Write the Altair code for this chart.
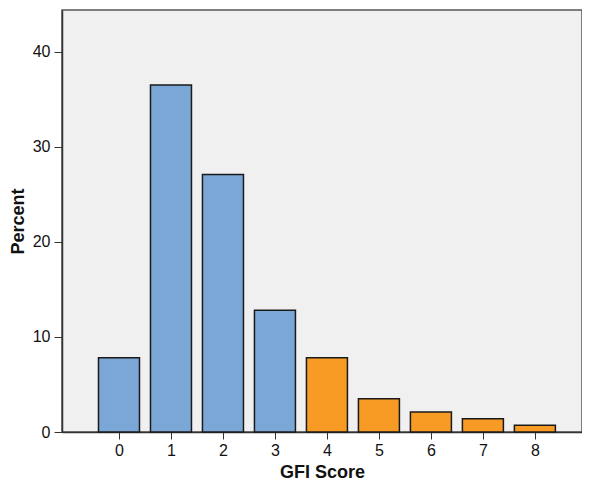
import altair as alt
import pandas as pd

scores = [0, 1, 2, 3, 4, 5, 6, 7, 8]
percents = [7.8, 36.5, 27.1, 12.8, 7.8, 3.5, 2.1, 1.4, 0.7]
groups = ["low", "low", "low", "low", "high", "high", "high", "high", "high"]

df = pd.DataFrame({"score": scores, "percent": percents, "group": groups})

font = "Liberation Sans"

chart = alt.Chart(df).mark_bar(
    size=41, stroke="#1a1a1a", strokeWidth=1.5
).encode(
    x=alt.X("score:Q", title="GFI Score",
            scale=alt.Scale(domain=[-1, 8.81], nice=False, zero=False),
            axis=alt.Axis(values=scores, format="d", grid=False, tickSize=7,
                          tickColor="#333", domainColor="#333", domainWidth=1.5,
                          labelFontSize=16, labelColor="#111", labelPadding=3,
                          titleFontSize=18, titleFontWeight="bold", titleColor="#111",
                          titlePadding=5, labelFont=font, titleFont=font)),
    y=alt.Y("percent:Q", title="Percent",
            scale=alt.Scale(domain=[0, 44.4], nice=False),
            axis=alt.Axis(values=[0, 10, 20, 30, 40], grid=False, tickSize=8,
                          tickColor="#333", domainColor="#333", domainWidth=1.5,
                          labelFontSize=16, labelColor="#111", labelPadding=4,
                          titleFontSize=18, titleFontWeight="bold", titleColor="#111",
                          titlePadding=5, labelFont=font, titleFont=font)),
    color=alt.Color("group:N", scale=alt.Scale(domain=["low", "high"],
                                              range=["#7BA7D7", "#F79B24"]), legend=None),
).properties(
    width=520, height=422,
    autosize=alt.AutoSizeParams(type="none"),
    padding={"left": 54, "top": 2, "right": 0, "bottom": 50},
).configure_view(
    fill="#F0F0F0", stroke="#555", strokeWidth=1.5
)

chart.save("out.html", embed_options={"renderer": "svg", "actions": False})
